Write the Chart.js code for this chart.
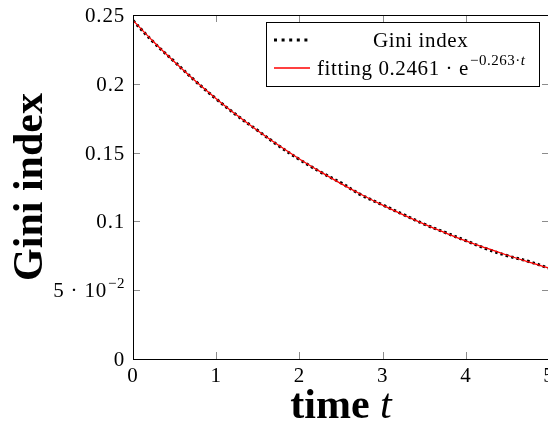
<!DOCTYPE html>
<html>
<head>
<meta charset="utf-8">
<script src="https://cdn.jsdelivr.net/npm/chart.js@4"></script>
<style>
  html, body { margin: 0; padding: 0; background: #fff; overflow: hidden; }
  #wrap { width: 552px; height: 424px; }
</style>
</head>
<body>
<div id="wrap"><canvas id="giniChart" width="552" height="424"></canvas></div>
<script>
// thoi gian t
var timeT = [0, 0.25, 0.5, 0.75, 1, 1.25, 1.5, 1.75, 2, 2.25, 2.5, 2.75, 3, 3.25, 3.5, 3.75, 4, 4.25, 4.5, 4.75, 5];
// chi so Gini doc tu hinh
var giniIndex = [0.246, 0.230, 0.216, 0.202, 0.189, 0.177, 0.166, 0.155, 0.145, 0.136, 0.128, 0.119, 0.112, 0.105, 0.098, 0.092, 0.086, 0.080, 0.075, 0.071, 0.066];
// duong fitting
var fitValues = [0.2461, 0.2304, 0.2158, 0.2020, 0.1892, 0.1771, 0.1659, 0.1553, 0.1454, 0.1362, 0.1275, 0.1194, 0.1118, 0.1047, 0.0980, 0.0918, 0.0859, 0.0805, 0.0754, 0.0706, 0.0661];
var xTicks = [0, 1, 2, 3, 4, 5];
var yTicks = [0, 0.05, 0.1, 0.15, 0.2, 0.25];
var yTickLabels = ['0', '5 · 10|−2', '0.1', '0.15', '0.2', '0.25'];

var serif = '"Liberation Serif", "DejaVu Serif", serif';

function toPoints(xs, ys) {
    return xs.map(function (x, i) { return { x: x, y: ys[i] }; });
}

function datChu(ctx, font, spacing) {
    ctx.font = font;
    ctx.letterSpacing = spacing || '0px';
}

// ve khung, vach chia, nhan, tieu de truc va chu thich
var veKhung = {
    id: 'veKhung',
    afterDatasetsDraw: function (chart) {
        var ctx = chart.ctx;
        var a = chart.chartArea;
        var sx = chart.scales.x, sy = chart.scales.y;
        ctx.save();

        // vach chia ben trong
        ctx.strokeStyle = '#8c8c8c';
        ctx.lineWidth = 1;
        xTicks.forEach(function (v) {
            var px = Math.round(sx.getPixelForValue(v)) + 0.5;
            ctx.beginPath();
            ctx.moveTo(px, a.bottom); ctx.lineTo(px, a.bottom - 7);
            ctx.moveTo(px, a.top); ctx.lineTo(px, a.top + 7);
            ctx.stroke();
        });
        yTicks.forEach(function (v) {
            var py = Math.round(sy.getPixelForValue(v)) + 0.5;
            ctx.beginPath();
            ctx.moveTo(a.left, py); ctx.lineTo(a.left + 7, py);
            ctx.moveTo(a.right, py); ctx.lineTo(a.right - 7, py);
            ctx.stroke();
        });

        // khung
        ctx.strokeStyle = '#000';
        ctx.lineWidth = 1;
        ctx.strokeRect(Math.round(a.left) + 0.5, Math.round(a.top) + 0.5, a.right - a.left, a.bottom - a.top);

        // nhan truc x
        ctx.fillStyle = '#000';
        datChu(ctx, '21px ' + serif, '0.8px');
        ctx.textAlign = 'center';
        ctx.textBaseline = 'alphabetic';
        xTicks.forEach(function (v) {
            ctx.fillText(String(v), sx.getPixelForValue(v), a.bottom + 23);
        });

        // nhan truc y
        yTickLabels.forEach(function (lab, i) {
            var py = sy.getPixelForValue(yTicks[i]);
            var parts = lab.split('|');
            var right = a.left - 8;
            ctx.textAlign = 'right';
            if (parts.length === 2) {
                datChu(ctx, '15px ' + serif, '0.5px');
                var w2 = ctx.measureText(parts[1]).width;
                ctx.fillText(parts[1], right, py - 2);
                datChu(ctx, '21px ' + serif, '0.8px');
                ctx.fillText(parts[0], right - w2 - 1, py + 7);
            } else {
                datChu(ctx, '21px ' + serif, '0.8px');
                ctx.fillText(parts[0], right, py + 7);
            }
        });

        // tieu de truc y
        ctx.save();
        ctx.translate(42, 187);
        ctx.rotate(-Math.PI / 2);
        datChu(ctx, 'bold 42px ' + serif);
        ctx.textAlign = 'center';
        ctx.fillText('Gini index', 0, 0);
        ctx.restore();

        // tieu de truc x
        ctx.textAlign = 'left';
        datChu(ctx, 'bold 42px ' + serif);
        var w1 = ctx.measureText('time ').width;
        datChu(ctx, 'italic 42px ' + serif);
        var wt = ctx.measureText('t').width;
        var x0 = 341 - (w1 + wt) / 2;
        datChu(ctx, 'bold 42px ' + serif);
        ctx.fillText('time ', x0, 418);
        datChu(ctx, 'italic 42px ' + serif);
        ctx.fillText('t', x0 + w1, 418);

        // chu thich
        var lx = 266.5, ly = 22.5, lw = 273, lh = 64;
        ctx.fillStyle = '#fff';
        ctx.fillRect(lx, ly, lw, lh);
        ctx.strokeStyle = '#000';
        ctx.lineWidth = 1;
        ctx.strokeRect(lx, ly, lw, lh);

        // mau duong cham
        ctx.strokeStyle = '#000';
        ctx.lineWidth = 3;
        ctx.setLineDash([3, 4.6]);
        ctx.beginPath();
        ctx.moveTo(274, 40); ctx.lineTo(310, 40);
        ctx.stroke();
        ctx.setLineDash([]);
        // mau duong do
        ctx.strokeStyle = '#ff0000';
        ctx.lineWidth = 1.3;
        ctx.beginPath();
        ctx.moveTo(274, 68); ctx.lineTo(310, 68);
        ctx.stroke();

        ctx.fillStyle = '#000';
        datChu(ctx, '21px ' + serif, '0.6px');
        var t1 = 'fitting 0.2461 · e';
        var tw1 = ctx.measureText(t1).width;
        datChu(ctx, '15px ' + serif, '0.5px');
        var s1 = '−0.263·', tws = ctx.measureText(s1).width;
        datChu(ctx, 'italic 15px ' + serif, '0.5px');
        var twt = ctx.measureText('t').width;
        var colW = tw1 + tws + twt;
        var cx0 = 317;
        datChu(ctx, '21px ' + serif, '0.6px');
        ctx.fillText(t1, cx0, 75);
        datChu(ctx, '15px ' + serif, '0.5px');
        ctx.fillText(s1, cx0 + tw1 + 1, 65);
        datChu(ctx, 'italic 15px ' + serif, '0.5px');
        ctx.fillText('t', cx0 + tw1 + 1 + tws, 65);

        datChu(ctx, '21px ' + serif, '0.6px');
        ctx.textAlign = 'center';
        ctx.fillText('Gini index', cx0 + colW / 2, 47);

        ctx.restore();
    }
};

var ctx = document.getElementById('giniChart').getContext('2d');
var myChart = new Chart(ctx, {
    type: 'line',
    data: {
        datasets: [{
            label: 'Gini index',
            data: toPoints(timeT, giniIndex),
            borderColor: '#000',
            borderWidth: 3,
            borderDash: [2.5, 3],
            pointRadius: 0,
            tension: 0.4,
            order: 1
        }, {
            label: 'fitting',
            data: toPoints(timeT, fitValues),
            borderColor: '#ff0000',
            borderWidth: 1.3,
            pointRadius: 0,
            tension: 0.4,
            order: 0
        }]
    },
    options: {
        responsive: false,
        animation: false,
        layout: { padding: { left: 133, top: 15, right: 3, bottom: 65 } },
        plugins: { legend: { display: false }, tooltip: { enabled: false } },
        scales: {
            x: { type: 'linear', min: 0, max: 5, display: false },
            y: { type: 'linear', min: 0, max: 0.25, display: false }
        }
    },
    plugins: [veKhung]
});
</script>
</body>
</html>
